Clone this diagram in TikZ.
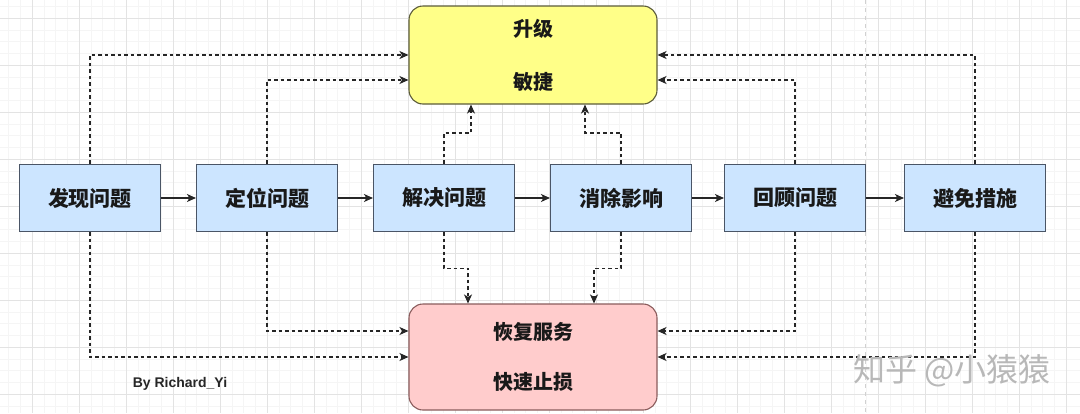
\documentclass[tikz,border=0pt]{standalone}
\usepackage{fontspec}
\usepackage{tikz}
\usetikzlibrary{arrows.meta}
\newfontfamily\cjk{Noto Sans CJK SC}
\newfontfamily\latinsans{Liberation Sans}
\definecolor{stepblue}{HTML}{CCE5FF}
\definecolor{stepline}{HTML}{4A5566}
\definecolor{upyellow}{HTML}{FFFF88}
\definecolor{upline}{HTML}{5C5C3A}
\definecolor{fixred}{HTML}{FFCCCC}
\definecolor{fixline}{HTML}{8A5C5C}
\tikzset{
  stepbox/.style={draw=stepline, line width=1.1pt, fill=stepblue, minimum width=141pt,
    minimum height=67pt, font=\cjk\bfseries\fontsize{21}{25}\selectfont, text=black!90},
  bigbox/.style={line width=1.1pt, rounded corners=14pt, minimum width=248pt,
    align=center, font=\cjk\bfseries\fontsize{20}{24}\selectfont, text=black!90},
  flow/.style={line width=1.1pt, black!85, -{Stealth[length=9pt,width=8pt,inset=2.5pt]}},
  dotflow/.style={flow, dash pattern=on 3.5pt off 3pt},
}
\begin{document}
\begin{tikzpicture}[x=1pt,y=-1pt]
  \useasboundingbox (0,0) rectangle (1080,413);
  \fill[white] (0,0) rectangle (1080,413);
  % grid
  \foreach \i in {0,...,92} \draw[black!4, line width=0.5pt] ({-15+11.75*\i},0) -- ++(0,413);
  \foreach \i in {0,...,36} \draw[black!4, line width=0.5pt] (0,{6.25+11.75*\i}) -- ++(1080,0);
  \foreach \i in {0,...,22} \draw[black!11, line width=0.7pt] ({32+47*\i},0) -- ++(0,413);
  \foreach \i in {0,...,8} \draw[black!11, line width=0.7pt] (0,{18+47*\i}) -- ++(1080,0);
  \draw[black!18, line width=0.8pt, dash pattern=on 4pt off 4pt] (865,0) -- (865,413);

  % steps
  \node[stepbox] (fx) at (90,198) {发现问题};
  \node[stepbox] (dw) at (267,198) {定位问题};
  \node[stepbox] (jj) at (444,198) {解决问题};
  \node[stepbox] (xc) at (621,198) {消除影响};
  \node[stepbox] (hg) at (795,198) {回顾问题};
  \node[stepbox] (bm) at (975,198) {避免措施};

  \node[bigbox, draw=upline, fill=upyellow, minimum height=98pt] (sj) at (533,55) {升级\\[29pt]敏捷};
  \node[bigbox, draw=fixline, fill=fixred, minimum height=106pt] (hf) at (533,357) {恢复服务\\[26pt]快速止损};

  \draw[flow] (fx) -- (dw);
  \draw[flow] (dw) -- (jj);
  \draw[flow] (jj) -- (xc);
  \draw[flow] (xc) -- (hg);
  \draw[flow] (hg) -- (bm);

  % up to sj
  \draw[dotflow] (fx.north) |- (sj.west);
  \draw[dotflow] (dw.north) |- ([yshift=-25pt]sj.west);
  \draw[dotflow] (jj.north) -- ++(0,-31) -| ([xshift=-62pt]sj.south);
  \draw[dotflow] (xc.north) -- ++(0,-31) -| ([xshift=52pt]sj.south);
  \draw[dotflow] (hg.north) |- ([yshift=-25pt]sj.east);
  \draw[dotflow] (bm.north) |- (sj.east);

  % down to hf
  \draw[dotflow] (fx.south) |- (hf.west);
  \draw[dotflow] (dw.south) |- ([yshift=26pt]hf.west);
  \draw[dotflow] (jj.south) -- ++(0,36) -| ([xshift=-65pt]hf.north);
  \draw[dotflow] (xc.south) -- ++(0,36) -| ([xshift=61pt]hf.north);
  \draw[dotflow] (hg.south) |- ([yshift=26pt]hf.east);
  \draw[dotflow] (bm.south) |- (hf.east);

  \node[font=\latinsans\bfseries\fontsize{14}{16}\selectfont, text=black!85] (by) at (180,384) {By Richard\_Yi};
  \node[font=\cjk\fontsize{32}{36}\selectfont, text=black!28] (zh) at (952,371) {知乎 @小猿猿};
\end{tikzpicture}
\end{document}
